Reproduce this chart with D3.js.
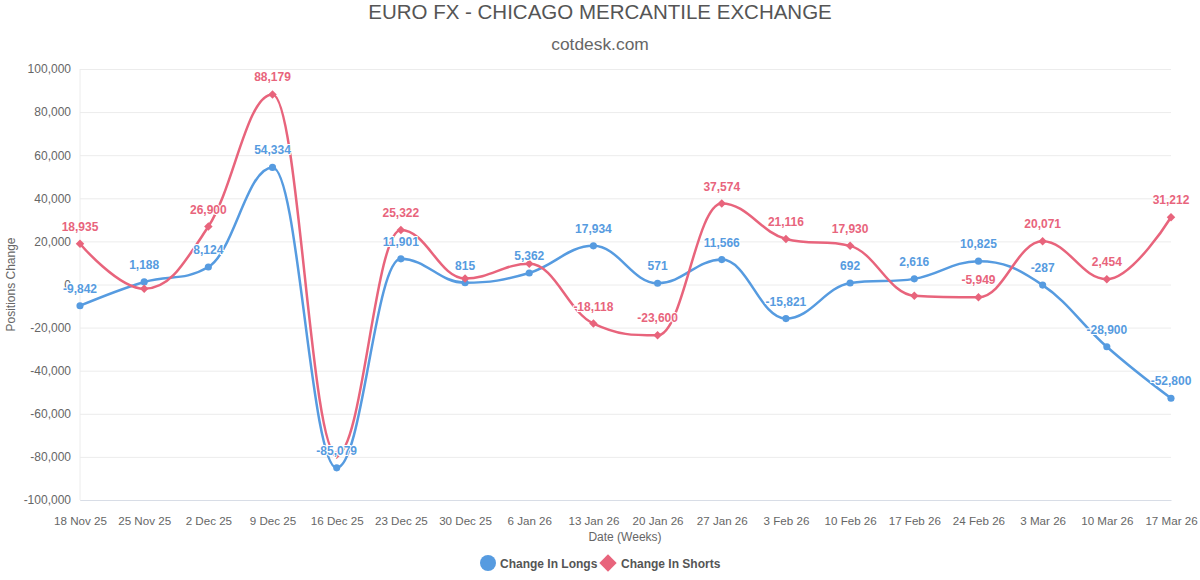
<!DOCTYPE html>
<html><head><meta charset="utf-8">
<script src="https://cdn.jsdelivr.net/npm/d3@7"></script>
<style>body{margin:0;background:#fff;}svg{display:block;font-family:"Liberation Sans",Arial,sans-serif;}</style>
</head><body><svg id="c" width="1200" height="580"></svg>
<script>
const categories = ["18 Nov 25","25 Nov 25","2 Dec 25","9 Dec 25","16 Dec 25","23 Dec 25","30 Dec 25","6 Jan 26","13 Jan 26","20 Jan 26","27 Jan 26","3 Feb 26","10 Feb 26","17 Feb 26","24 Feb 26","3 Mar 26","10 Mar 26","17 Mar 26"];
const longs = [-9842,1188,8124,54334,-85079,11901,815,5362,17934,571,11566,-15821,692,2616,10825,-287,-28900,-52800];
const shorts = [18935,-2000,26900,88179,-79000,25322,2800,9600,-18118,-23600,37574,21116,17930,-5200,-5949,20071,2454,31212];
// labels hidden where overlapping in the original
const shortsLabelShown = [1,0,1,1,0,1,0,0,1,1,1,1,1,0,1,1,1,1];
const longsLabelShown  = [1,1,1,1,1,1,1,1,1,1,1,1,1,1,1,1,1,1];
const yTicks = [-100000,-80000,-60000,-40000,-20000,0,20000,40000,60000,80000,100000];
const blue = "#569be0", red = "#e8647c";

const svg = d3.select("#c");
const L = 80, R = 1171, T = 69, B = 500;
const x = d3.scalePoint().domain(categories).range([L, R]);
const y = d3.scaleLinear().domain([-100000, 100000]).range([B, T]);
const f0 = d3.format(",");
const fmt = v => f0(v).replace("\u2212", "-");

// title
svg.append("text").attr("x", 600).attr("y", 19).attr("text-anchor","middle")
  .attr("font-size", 20.5).attr("fill", "#555").text("EURO FX - CHICAGO MERCANTILE EXCHANGE");
svg.append("text").attr("x", 600).attr("y", 50).attr("text-anchor","middle")
  .attr("font-size", 17.4).attr("fill", "#666").text("cotdesk.com");

// grid
const yAxis = d3.axisLeft(y).tickValues(yTicks).tickSize(-(R - L)).tickFormat(d => d === 0 ? "0" : fmt(d));
const gy = svg.append("g").attr("transform", `translate(${L},0)`).call(yAxis);
gy.select(".domain").remove();
gy.selectAll(".tick line").attr("stroke", "#ececec");
gy.selectAll(".tick text").attr("x", -9).attr("font-size", 12).attr("fill", "#666").attr("font-family","Liberation Sans, Arial, sans-serif");
svg.append("line").attr("x1", L).attr("x2", L).attr("y1", T).attr("y2", B).attr("stroke", "#ececec");

const xAxis = d3.axisBottom(x).tickSize(0);
const gx = svg.append("g").attr("transform", `translate(0,${B})`).call(xAxis);
gx.select(".domain").attr("stroke", "#d8dde6");
gx.selectAll(".tick text").attr("y", 17).attr("font-size", 11.6).attr("fill", "#666").attr("font-family","Liberation Sans, Arial, sans-serif");

svg.append("text").attr("x", 625).attr("y", 541).attr("text-anchor","middle").attr("font-size", 12).attr("fill","#666").text("Date (Weeks)");
svg.append("text").attr("transform", `translate(15,${(T+B)/2}) rotate(-90)`).attr("text-anchor","middle").attr("font-size", 12).attr("fill","#666").text("Positions Change");

// Highcharts-like spline
function splinePath(pts) {
  const sm = 1.5, den = sm + 1;
  const cps = pts.map((p, i) => {
    if (i === 0 || i === pts.length - 1) return null;
    const a = pts[i-1], n = pts[i+1];
    let lx = (sm*p[0] + a[0]) / den, ly = (sm*p[1] + a[1]) / den;
    let rx = (sm*p[0] + n[0]) / den, ry = (sm*p[1] + n[1]) / den;
    let corr = 0;
    if (rx !== lx) corr = ((ry - ly) * (rx - p[0])) / (rx - lx) + p[1] - ry;
    ly += corr; ry += corr;
    if (ly > a[1] && ly > p[1]) { ly = Math.max(a[1], p[1]); ry = 2*p[1] - ly; }
    else if (ly < a[1] && ly < p[1]) { ly = Math.min(a[1], p[1]); ry = 2*p[1] - ly; }
    if (ry > n[1] && ry > p[1]) { ry = Math.max(n[1], p[1]); ly = 2*p[1] - ry; }
    else if (ry < n[1] && ry < p[1]) { ry = Math.min(n[1], p[1]); ly = 2*p[1] - ry; }
    return {lx, ly, rx, ry};
  });
  const path = d3.path();
  path.moveTo(pts[0][0], pts[0][1]);
  for (let i = 1; i < pts.length; i++) {
    const pc = cps[i-1], c = cps[i];
    path.bezierCurveTo(pc ? pc.rx : pts[i-1][0], pc ? pc.ry : pts[i-1][1],
                       c ? c.lx : pts[i][0], c ? c.ly : pts[i][1], pts[i][0], pts[i][1]);
  }
  return path.toString();
}

function drawSeries(vals, color, symbol) {
  const pts = vals.map((v, i) => [x(categories[i]), y(v)]);
  svg.append("path").attr("d", splinePath(pts)).attr("fill","none").attr("stroke", color)
    .attr("stroke-width", 2.5).attr("stroke-linejoin","round").attr("stroke-linecap","round");
  const sym = d3.symbol().type(symbol).size(symbol === d3.symbolCircle ? 40 : 36);
  svg.append("g").selectAll("path").data(vals).join("path")
    .attr("transform", (d, i) => `translate(${x(categories[i])},${y(d)})` + (symbol === d3.symbolSquare ? " rotate(45)" : ""))
    .attr("d", sym).attr("fill", color);
}
drawSeries(longs, blue, d3.symbolCircle);
drawSeries(shorts, red, d3.symbolSquare);

function labels(vals, color, shown) {
  const items = vals.map((v, i) => ({v, c: categories[i], i})).filter(o => shown[o.i]);
  svg.append("g").selectAll("text").data(items).join("text")
    .attr("x", o => x(o.c))
    .attr("y", o => y(o.v) - 13)
    .attr("text-anchor", "middle").attr("font-size", 12).attr("font-weight","bold")
    .attr("fill", color).attr("stroke", "#fff").attr("stroke-width", 2).attr("paint-order","stroke")
    .text(o => fmt(o.v));
}
labels(longs, blue, longsLabelShown);
labels(shorts, red, shortsLabelShown);

// legend
const lg = svg.append("g").attr("transform", "translate(0,563)");
lg.append("circle").attr("cx", 488).attr("cy", 0).attr("r", 8).attr("fill", blue);
lg.append("text").attr("x", 500).attr("y", 4.5).attr("font-size", 12).attr("font-weight","bold").attr("fill","#555").text("Change In Longs");
lg.append("path").attr("d", d3.symbol().type(d3.symbolSquare).size(150)).attr("transform","translate(608,0) rotate(45)").attr("fill", red);
lg.append("text").attr("x", 621).attr("y", 4.5).attr("font-size", 12).attr("font-weight","bold").attr("fill","#555").text("Change In Shorts");
</script></body></html>
